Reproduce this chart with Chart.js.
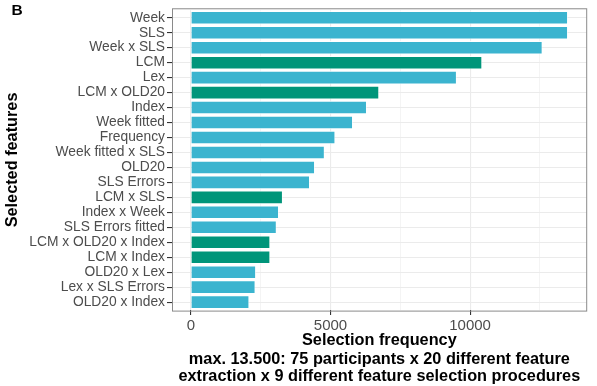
<!DOCTYPE html>
<html lang="en">
<head>
  <meta charset="UTF-8" />
  <title>Selected features</title>
  <script src="https://cdn.jsdelivr.net/npm/chart.js"></script>
  <style>
    body { margin: 0; padding: 0; background: #fff; }
    #wrap { width: 597px; height: 386px; position: relative; }
  </style>
</head>
<body>
  <div id="wrap"><canvas id="featChart" width="597" height="386"></canvas></div>

  <script>
    const categories = [
      "Week", "SLS", "Week x SLS", "LCM", "Lex", "LCM x OLD20", "Index",
      "Week fitted", "Frequency", "Week fitted x SLS", "OLD20", "SLS Errors",
      "LCM x SLS", "Index x Week", "SLS Errors fitted", "LCM x OLD20 x Index",
      "LCM x Index", "OLD20 x Lex", "Lex x SLS Errors", "OLD20 x Index"
    ];
    const frequency = [
      13500, 13500, 12590, 10430, 9520, 6740, 6300,
      5800, 5170, 4790, 4440, 4260,
      3290, 3150, 3070, 2840,
      2840, 2330, 2310, 2090
    ];
    const xTickValues = [0, 2500, 5000, 7500, 10000, 12500];
    const xLabelStep = 5000;
    const maxFreq = 13500;

    const blue = "#3bb4cf";
    const green = "#00957a";
    const font = "'Liberation Sans', Arial, Helvetica, sans-serif";

    // LCM-Features grün, Rest blau
    const barColors = categories.map(c => c.startsWith("LCM") ? green : blue);

    const textPlugin = {
      id: "panelText",
      afterDraw(chart) {
        const { ctx, chartArea: a } = chart;
        const yScale = chart.scales.y;
        const unit = yScale.height / categories.length;
        const top = a.top - unit * 0.1;
        const bottom = a.bottom + unit * 0.1;
        ctx.save();
        ctx.strokeStyle = "#8a8a8a";
        ctx.lineWidth = 1;
        ctx.strokeRect(a.left + 0.5, top, a.right - a.left - 0.5, bottom - top);

        ctx.fillStyle = "#000";
        ctx.textAlign = "center";
        ctx.textBaseline = "middle";
        ctx.font = "bold 16.3px " + font;
        const cx = (a.left + a.right) / 2;
        ctx.fillText("Selection frequency", cx, 341);
        ctx.fillText("max. 13.500: 75 participants x 20 different feature", cx, 359.5);
        ctx.fillText("extraction x 9 different feature selection procedures", cx, 377);

        ctx.translate(12.5, (top + bottom) / 2);
        ctx.rotate(-Math.PI / 2);
        ctx.fillText("Selected features", 0, 0);
        ctx.restore();

        ctx.save();
        ctx.font = "bold 15.5px " + font;
        ctx.fillStyle = "#000";
        ctx.textBaseline = "middle";
        ctx.fillText("B", 11.5, 11);
        ctx.restore();
      }
    };

    new Chart(document.getElementById("featChart").getContext("2d"), {
      type: "bar",
      data: {
        labels: categories,
        datasets: [{
          data: frequency,
          backgroundColor: barColors,
          borderColor: "rgba(255,255,255,0.85)",
          borderWidth: 0.8,
          barPercentage: 0.88,
          categoryPercentage: 1.0
        }]
      },
      options: {
        indexAxis: "y",
        responsive: false,
        animation: false,
        layout: { padding: { top: 6.8, right: 10.3, left: 0, bottom: 0 } },
        plugins: { legend: { display: false }, tooltip: { enabled: false } },
        scales: {
          x: {
            type: "linear",
            min: -maxFreq * 0.05,
            max: maxFreq * 1.05,
            afterBuildTicks: s => { s.ticks = xTickValues.map(v => ({ value: v })); },
            afterFit: s => { s.height = 76.4; },
            border: { display: false },
            grid: {
              color: "#ebebeb",
              lineWidth: c => (c.tick && c.tick.value % xLabelStep === 0) ? 1.1 : 0.55,
              tickColor: c => (c.tick && c.tick.value % xLabelStep === 0) ? "#333" : "rgba(0,0,0,0)",
              tickLength: 5.5
            },
            ticks: {
              autoSkip: false,
              maxRotation: 0,
              padding: 1.5,
              color: "#4d4d4d",
              font: { family: font, size: 15 },
              callback: v => v % xLabelStep === 0 ? String(v) : ""
            }
          },
          y: {
            afterFit: s => { s.width = 172; },
            border: { display: false },
            grid: {
              offset: false,
              color: "#ebebeb",
              lineWidth: 1.1,
              tickColor: "#333",
              tickLength: 5
            },
            ticks: {
              autoSkip: false,
              padding: 2,
              color: "#4d4d4d",
              font: { family: font, size: 13.8 }
            }
          }
        }
      },
      plugins: [textPlugin]
    });
  </script>
</body>
</html>
